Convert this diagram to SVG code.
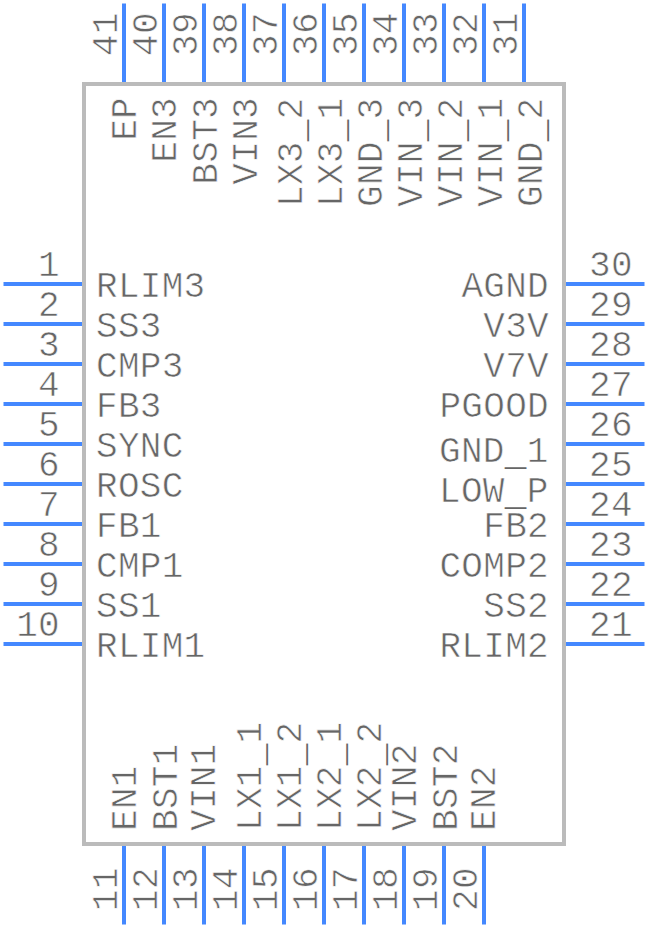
<svg xmlns="http://www.w3.org/2000/svg" width="648" height="928" viewBox="0 0 648 928">
<style>
text{font-family:"Liberation Mono","DejaVu Sans Mono",monospace;font-size:36px;letter-spacing:.3px;fill:#666;stroke:#fff;stroke-width:.6px}
.e{text-anchor:end}
.u{stroke:none}
.pin{stroke:#4488ff;stroke-width:4;fill:none}
#body rect{fill:#fff;stroke:#bbb;stroke-width:4}
</style>
<rect width="648" height="928" fill="#fff"/>
<g id="body"><rect x="84" y="84" width="480" height="760"/></g>
<g id="connectors" class="pin">
<path d="M3.5 284H82M3.5 324H82M3.5 364H82M3.5 404H82M3.5 444H82M3.5 484H82M3.5 524H82M3.5 564H82M3.5 604H82M3.5 644H82"/>
<path d="M566 284H644.5M566 324H644.5M566 364H644.5M566 404H644.5M566 444H644.5M566 484H644.5M566 524H644.5M566 564H644.5M566 604H644.5M566 644H644.5"/>
<path d="M124 3.5V82M164 3.5V82M204 3.5V82M244 3.5V82M284 3.5V82M324 3.5V82M364 3.5V82M404 3.5V82M444 3.5V82M484 3.5V82M524 3.5V82"/>
<path d="M124 846V924.5M164 846V924.5M204 846V924.5M244 846V924.5M284 846V924.5M324 846V924.5M364 846V924.5M404 846V924.5M444 846V924.5M484 846V924.5"/>
</g>
<g id="pins-left">
<g id="pin1"><text class="e" x="60" y="276">1</text><text x="96" y="297">RLIM3</text></g>
<g id="pin2"><text class="e" x="60" y="316">2</text><text x="96" y="337">SS3</text></g>
<g id="pin3"><text class="e" x="60" y="356">3</text><text x="96" y="377">CMP3</text></g>
<g id="pin4"><text class="e" x="60" y="396">4</text><text x="96" y="417">FB3</text></g>
<g id="pin5"><text class="e" x="60" y="436">5</text><text x="96" y="457">SYNC</text></g>
<g id="pin6"><text class="e" x="60" y="476">6</text><text x="96" y="497">ROSC</text></g>
<g id="pin7"><text class="e" x="60" y="516">7</text><text x="96" y="537">FB1</text></g>
<g id="pin8"><text class="e" x="60" y="556">8</text><text x="96" y="577">CMP1</text></g>
<g id="pin9"><text class="e" x="60" y="596">9</text><text x="96" y="617">SS1</text></g>
<g id="pin10"><text class="e" x="60" y="636">10</text><text x="96" y="657">RLIM1</text></g>
</g>
<g id="pins-right">
<g id="pin30"><text x="589" y="276">30</text><text class="e" x="549" y="297">AGND</text></g>
<g id="pin29"><text x="589" y="316">29</text><text class="e" x="549" y="337">V3V</text></g>
<g id="pin28"><text x="589" y="356">28</text><text class="e" x="549" y="377">V7V</text></g>
<g id="pin27"><text x="589" y="396">27</text><text class="e" x="549" y="417">PGOOD</text></g>
<g id="pin26"><text x="589" y="436">26</text><text x="439" y="462">GND<tspan class="u" dy="3">_</tspan><tspan dy="-3">1</tspan></text></g>
<g id="pin25"><text x="589" y="476">25</text><text x="439" y="502">LOW<tspan class="u" dy="3">_</tspan><tspan dy="-3">P</tspan></text></g>
<g id="pin24"><text x="589" y="516">24</text><text class="e" x="549" y="537">FB2</text></g>
<g id="pin23"><text x="589" y="556">23</text><text class="e" x="549" y="577">COMP2</text></g>
<g id="pin22"><text x="589" y="596">22</text><text class="e" x="549" y="617">SS2</text></g>
<g id="pin21"><text x="589" y="636">21</text><text class="e" x="549" y="657">RLIM2</text></g>
</g>
<g id="pins-top">
<g id="pin41"><text transform="translate(117 56) rotate(-90)">41</text><text class="e" transform="translate(136 97) rotate(-90)">EP</text></g>
<g id="pin40"><text transform="translate(157 56) rotate(-90)">40</text><text class="e" transform="translate(176 97) rotate(-90)">EN3</text></g>
<g id="pin39"><text transform="translate(197 56) rotate(-90)">39</text><text class="e" transform="translate(217 97) rotate(-90)">BST3</text></g>
<g id="pin38"><text transform="translate(237 56) rotate(-90)">38</text><text class="e" transform="translate(257 97) rotate(-90)">VIN3</text></g>
<g id="pin37"><text transform="translate(277 56) rotate(-90)">37</text><text transform="translate(302 207) rotate(-90)">LX3<tspan class="u" dy="3">_</tspan><tspan dy="-3">2</tspan></text></g>
<g id="pin36"><text transform="translate(317 56) rotate(-90)">36</text><text transform="translate(342 207) rotate(-90)">LX3<tspan class="u" dy="3">_</tspan><tspan dy="-3">1</tspan></text></g>
<g id="pin35"><text transform="translate(357 56) rotate(-90)">35</text><text transform="translate(382 207) rotate(-90)">GND<tspan class="u" dy="3">_</tspan><tspan dy="-3">3</tspan></text></g>
<g id="pin34"><text transform="translate(397 56) rotate(-90)">34</text><text transform="translate(422 207) rotate(-90)">VIN<tspan class="u" dy="3">_</tspan><tspan dy="-3">3</tspan></text></g>
<g id="pin33"><text transform="translate(437 56) rotate(-90)">33</text><text transform="translate(462 207) rotate(-90)">VIN<tspan class="u" dy="3">_</tspan><tspan dy="-3">2</tspan></text></g>
<g id="pin32"><text transform="translate(477 56) rotate(-90)">32</text><text transform="translate(502 207) rotate(-90)">VIN<tspan class="u" dy="3">_</tspan><tspan dy="-3">1</tspan></text></g>
<g id="pin31"><text transform="translate(517 56) rotate(-90)">31</text><text transform="translate(542 207) rotate(-90)">GND<tspan class="u" dy="3">_</tspan><tspan dy="-3">2</tspan></text></g>
</g>
<g id="pins-bottom">
<g id="pin11"><text transform="translate(117 911) rotate(-90)">11</text><text transform="translate(136 831) rotate(-90)">EN1</text></g>
<g id="pin12"><text transform="translate(157 911) rotate(-90)">12</text><text transform="translate(177 831) rotate(-90)">BST1</text></g>
<g id="pin13"><text transform="translate(197 911) rotate(-90)">13</text><text transform="translate(215 831) rotate(-90)">VIN1</text></g>
<g id="pin14"><text transform="translate(237 911) rotate(-90)">14</text><text transform="translate(261 831) rotate(-90)">LX1<tspan class="u" dy="3">_</tspan><tspan dy="-3">1</tspan></text></g>
<g id="pin15"><text transform="translate(277 911) rotate(-90)">15</text><text transform="translate(301 831) rotate(-90)">LX1<tspan class="u" dy="3">_</tspan><tspan dy="-3">2</tspan></text></g>
<g id="pin16"><text transform="translate(317 911) rotate(-90)">16</text><text transform="translate(341 831) rotate(-90)">LX2<tspan class="u" dy="3">_</tspan><tspan dy="-3">1</tspan></text></g>
<g id="pin17"><text transform="translate(357 911) rotate(-90)">17</text><text transform="translate(381 831) rotate(-90)">LX2<tspan class="u" dy="3">_</tspan><tspan dy="-3">2</tspan></text></g>
<g id="pin18"><text transform="translate(397 911) rotate(-90)">18</text><text transform="translate(416 831) rotate(-90)">VIN2</text></g>
<g id="pin19"><text transform="translate(437 911) rotate(-90)">19</text><text transform="translate(457 831) rotate(-90)">BST2</text></g>
<g id="pin20"><text transform="translate(477 911) rotate(-90)">20</text><text transform="translate(495 831) rotate(-90)">EN2</text></g>
</g>
</svg>
